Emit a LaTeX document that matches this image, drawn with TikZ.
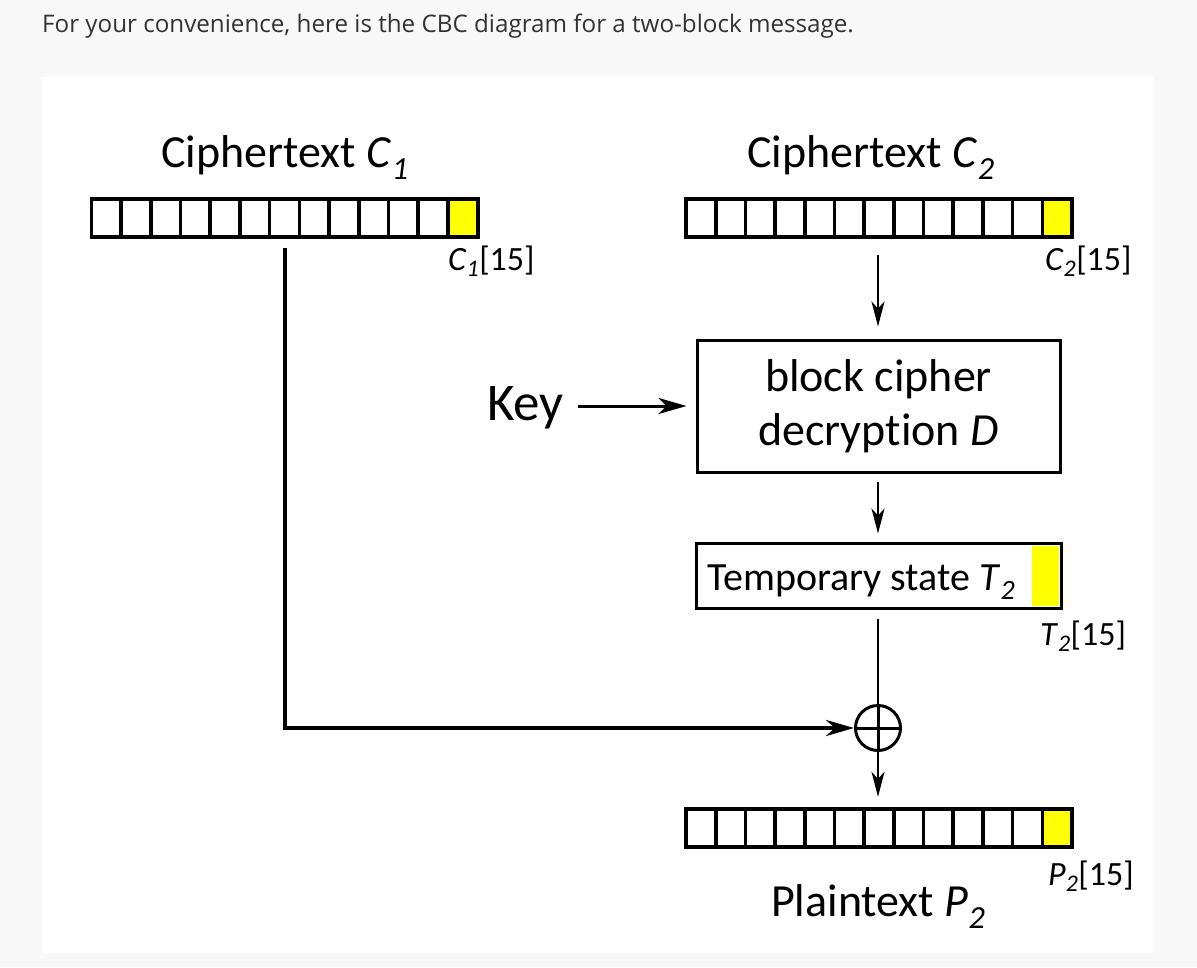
\documentclass[tikz,border=0pt]{standalone}
\usepackage{fontspec}
\setmainfont{Carlito}[Ligatures=NoCommon]
\newfontfamily\topfont{Open Sans}
\usetikzlibrary{arrows.meta}
\definecolor{bggray}{HTML}{F8F8F8}
\definecolor{topgray}{HTML}{333333}
\definecolor{cellyellow}{HTML}{FFFF00}
\newcommand{\fsz}[1]{\fontsize{#1}{#1}\selectfont}
\newcommand{\isub}[1]{\textsubscript{\itshape #1}}
\tikzset{
  regbox/.style={minimum width=386pt, minimum height=38pt, inner sep=0pt, draw=none},
  regline/.style={line width=3.6pt},
  boxstyle/.style={draw, line width=3pt, inner sep=0pt},
  lbl/.style={anchor=base west, inner sep=0pt},
  biglbl/.style={font=\fsz{46}, inner sep=0pt, anchor=base},
  smalllbl/.style={font=\fsz{34}, anchor=base west, inner sep=0pt},
  thinarrow/.style={line width=2.6pt, -{Stealth[length=25pt,width=13pt,inset=7pt]}},
  thickarrow/.style={line width=4pt, -{Stealth[length=28pt,width=16pt,inset=9pt]}},
  keyarrow/.style={line width=3pt, -{Stealth[length=28pt,width=16pt,inset=8pt]}},
}
\newcommand{\register}[3]{%
  \node[regbox] (#1) at (#2+193,#3+19) {};
  \fill[cellyellow] (#2+356.3,#3) rectangle (#2+386,#3+38);
  \foreach \i in {1,...,12} \draw[regline] (#2+\i*29.692,#3) -- ++(0,38);
  \draw[regline] (#1.north west) rectangle (#1.south east);
}
\begin{document}
\begin{tikzpicture}[x=1pt,y=-1pt]
\useasboundingbox (0,0) rectangle (1197,967);
\fill[bggray] (0,0) rectangle (1197,967);
\fill[white] (42,77) rectangle (1153,953);
\node[anchor=base west, inner sep=0pt, font=\topfont\fsz{24.2}, text=topgray] (intro) at (42,32) {For your convenience, here is the CBC diagram for a two-block message.};

% labels
\node[biglbl] (c1lbl) at (285,167) {Ciphertext \textit{C}\isub{1}};
\node[biglbl] (c2lbl) at (871,167) {Ciphertext \textit{C}\isub{2}};

% registers
\register{c1reg}{91.5}{199}
\register{c2reg}{686}{199}
\register{p2reg}{686}{809}

\node[smalllbl] (c1idx) at (448,270) {\textit{C}\isub{1}[15]};
\node[smalllbl] (c2idx) at (1045,270) {\textit{C}\isub{2}[15]};

% decryption box
\node[boxstyle, minimum width=363pt, minimum height=132pt, align=center, font=\fontsize{46}{54}\selectfont] (dec) at (878.5,406) {block cipher\\decryption \textit{D}};
\node[lbl, font=\fsz{53}] (key) at (487,420) {Key};

% temporary state
\node[boxstyle, draw=none, minimum width=362pt, minimum height=62pt] (temp) at (879,576) {};
\fill[cellyellow] (1032,546) rectangle (1059,606);
\draw[line width=3pt] (temp.north west) rectangle (temp.south east);
\node[lbl, font=\fsz{40}] (templbl) at (707,590) {Temporary state \textit{T}\isub{2}};
\node[smalllbl] (t2idx) at (1040,645) {\textit{T}\isub{2}[15]};

% xor
\node[draw, circle, line width=3pt, minimum size=45pt, inner sep=0pt] (xor) at (878,728) {};
\draw[line width=3pt] (xor.north) -- (xor.south);
\draw[line width=3pt] (xor.west) -- (xor.east);

\node[smalllbl] (p2idx) at (1048,885) {\textit{P}\isub{2}[15]};
\node[lbl, font=\fsz{46}] (p2lbl) at (771,916) {Plaintext \textit{P}\isub{2}};

% connectors
\coordinate (c1out) at (284.5,248);
\coordinate (c2out) at (878,255);
\draw[thickarrow] (c1out) |- (xor.west);
\draw[thinarrow, shorten >=12pt] (c2out) -- (dec.north -| c2out);
\draw[keyarrow, shorten <=14pt, shorten >=9pt] (key.east |- dec.west) -- (dec.west);
\draw[thinarrow, shorten <=8pt, shorten >=10pt] (dec.south -| c2out) -- (temp.north -| c2out);
\draw[line width=2.6pt, shorten <=10pt] (temp.south -| c2out) -- (xor.north);
\draw[thinarrow, shorten >=12pt] (xor.south) -- (p2reg.north -| xor.south);
\end{tikzpicture}
\end{document}
